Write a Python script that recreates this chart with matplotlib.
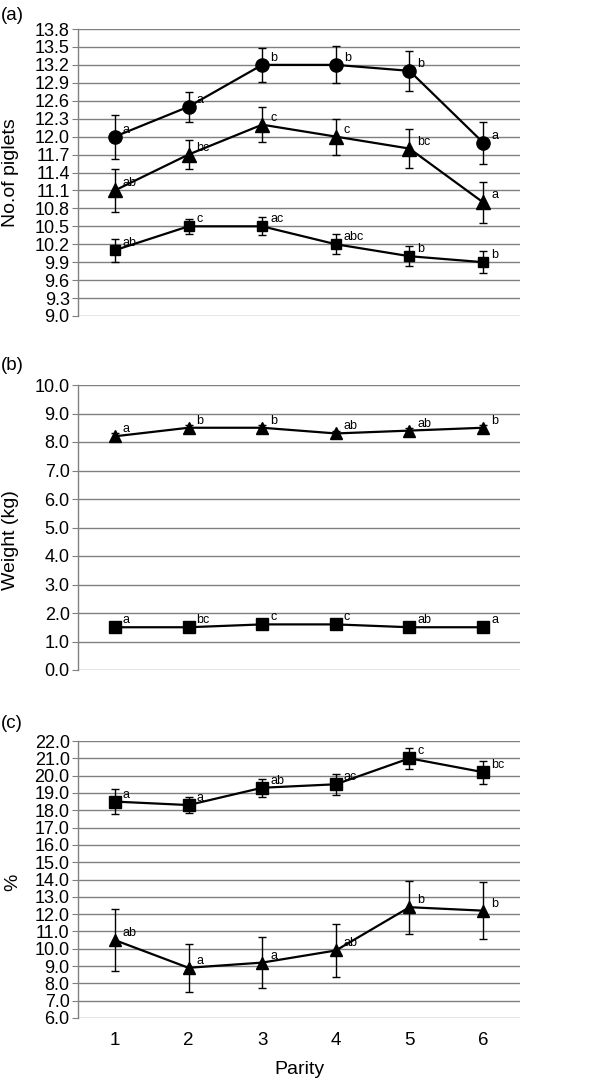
import matplotlib.pyplot as plt
import numpy as np

plt.rcParams['font.family'] = ['Liberation Sans', 'DejaVu Sans']

parity = [1, 2, 3, 4, 5, 6]

# (a) number of piglets
a_circ = [12.0, 12.5, 13.2, 13.2, 13.1, 11.9]
a_circ_err = [0.37, 0.25, 0.29, 0.31, 0.33, 0.35]
a_circ_lbl = ['a', 'a', 'b', 'b', 'b', 'a']
a_tri = [11.1, 11.7, 12.2, 12.0, 11.8, 10.9]
a_tri_err = [0.36, 0.24, 0.29, 0.30, 0.32, 0.34]
a_tri_lbl = ['ab', 'bc', 'c', 'c', 'bc', 'a']
a_sq = [10.1, 10.5, 10.5, 10.2, 10.0, 9.9]
a_sq_err = [0.19, 0.13, 0.15, 0.17, 0.17, 0.18]
a_sq_lbl = ['ab', 'c', 'ac', 'abc', 'b', 'b']

# (b) weight
b_tri = [8.2, 8.5, 8.5, 8.3, 8.4, 8.5]
b_tri_err = [0.1, 0.1, 0.1, 0.1, 0.1, 0.1]
b_tri_lbl = ['a', 'b', 'b', 'ab', 'ab', 'b']
b_sq = [1.5, 1.5, 1.6, 1.6, 1.5, 1.5]
b_sq_err = [0.05, 0.05, 0.05, 0.05, 0.05, 0.05]
b_sq_lbl = ['a', 'bc', 'c', 'c', 'ab', 'a']

# (c) percent
c_sq = [18.5, 18.3, 19.3, 19.5, 21.0, 20.2]
c_sq_err = [0.72, 0.48, 0.52, 0.60, 0.62, 0.66]
c_sq_lbl = ['a', 'a', 'ab', 'ac', 'c', 'bc']
c_tri = [10.5, 8.9, 9.2, 9.9, 12.4, 12.2]
c_tri_err = [1.78, 1.37, 1.45, 1.55, 1.53, 1.64]
c_tri_lbl = ['ab', 'a', 'a', 'ab', 'b', 'b']

W, H = 600, 1081
fig = plt.figure(figsize=(W / 100, H / 100), dpi=100)


def make_ax(top_px, bot_px):
    ax = fig.add_axes([78 / W, 1 - bot_px / H, (520 - 78) / W, (bot_px - top_px) / H])
    ax.set_xlim(0.5, 6.5)
    for s in ['top', 'right', 'bottom']:
        ax.spines[s].set_visible(False)
    ax.spines['left'].set_color('#808080')
    ax.spines['left'].set_linewidth(1.0)
    ax.grid(axis='y', color='#808080', linewidth=1.0)
    ax.set_axisbelow(True)
    ax.tick_params(axis='y', labelsize=13, length=4, color='#808080', pad=2)
    ax.tick_params(axis='x', length=0)
    return ax


def series(ax, y, err, lbl, marker, ms):
    ax.errorbar(parity, y, yerr=err, color='black', marker=marker, ms=ms,
                lw=1.6, elinewidth=1.0, capsize=3, capthick=1.0, zorder=3)
    for x, v, t in zip(parity, y, lbl):
        ax.annotate(t, (x, v), xytext=(8, 7), textcoords='offset pixels',
                    ha='left', va='center', fontsize=9, zorder=4)


ax1 = make_ax(29, 316)
ax1.set_ylim(9.0, 13.8)
ax1.set_yticks(np.arange(9.0, 13.81, 0.3))
ax1.set_yticklabels([f'{v:.1f}' for v in np.arange(9.0, 13.81, 0.3)])
ax1.set_xticks([])
series(ax1, a_circ, a_circ_err, a_circ_lbl, 'o', 9.5)
series(ax1, a_tri, a_tri_err, a_tri_lbl, '^', 9.5)
series(ax1, a_sq, a_sq_err, a_sq_lbl, 's', 7.5)

ax2 = make_ax(385, 670)
ax2.set_ylim(0, 10)
ax2.set_yticks(np.arange(0, 10.1, 1.0))
ax2.set_yticklabels([f'{v:.1f}' for v in np.arange(0, 10.1, 1.0)])
ax2.set_xticks([])
series(ax2, b_tri, b_tri_err, b_tri_lbl, '^', 9)
series(ax2, b_sq, b_sq_err, b_sq_lbl, 's', 8.5)

ax3 = make_ax(741, 1018)
ax3.set_ylim(6, 22)
ax3.set_yticks(np.arange(6, 22.1, 1.0))
ax3.set_yticklabels([f'{v:.1f}' for v in np.arange(6, 22.1, 1.0)])
ax3.set_xticks(parity)
ax3.tick_params(axis='x', labelsize=13.5, pad=10)
ax3.set_xlabel('Parity', fontsize=14, labelpad=9)
series(ax3, c_sq, c_sq_err, c_sq_lbl, 's', 8.5)
series(ax3, c_tri, c_tri_err, c_tri_lbl, '^', 9)

fig.text(1 / W, 1 - 15 / H, '(a)', fontsize=13.5, va='center', ha='left')
fig.text(1 / W, 1 - 366 / H, '(b)', fontsize=13.5, va='center', ha='left')
fig.text(1 / W, 1 - 723 / H, '(c)', fontsize=13.5, va='center', ha='left')
fig.text(11 / W, 1 - 173 / H, 'No.of piglets', fontsize=14, rotation=90, va='center', ha='center')
fig.text(11 / W, 1 - 540 / H, 'Weight (kg)', fontsize=14, rotation=90, va='center', ha='center')
fig.text(13 / W, 1 - 882 / H, '%', fontsize=14, rotation=90, va='center', ha='center')

fig.savefig('out.png', dpi=100)
